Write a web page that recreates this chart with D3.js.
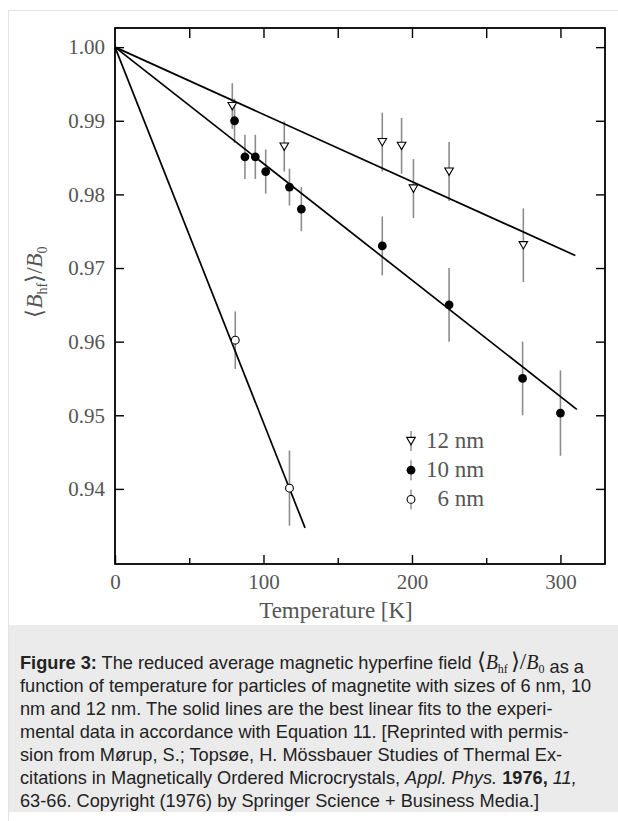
<!DOCTYPE html>
<html>
<head>
<meta charset="utf-8">
<script src="https://cdn.jsdelivr.net/npm/d3@7"></script>
<style>
  html, body { margin: 0; padding: 0; background: #fff; }
  svg { display: block; }
</style>
</head>
<body>
<svg id="chart" width="618" height="821"></svg>
<script>
// ---------- data ----------
// 12 nm particles (open down-triangles)
const T12 = [79, 114, 180, 193, 201, 225, 275];
const V12 = [0.9920, 0.9865, 0.9871, 0.9866, 0.9808, 0.9831, 0.9731];
const E12 = [0.0031, 0.0034, 0.0040, 0.0038, 0.0040, 0.0040, 0.0050];
// 10 nm particles (filled circles)
const T10 = [80.5, 87.5, 94.5, 101.5, 117.5, 125.5, 180, 225, 274.5, 300];
const V10 = [0.9900, 0.9851, 0.9851, 0.9831, 0.9810, 0.9780, 0.9730, 0.9650, 0.9550, 0.9503];
const E10 = [0.0030, 0.0030, 0.0030, 0.0030, 0.0025, 0.0030, 0.0040, 0.0050, 0.0050, 0.0058];
// 6 nm particles (open circles)
const T6 = [81, 117.5];
const V6 = [0.9602, 0.9401];
const E6 = [0.0039, 0.0051];
// best linear fits: all start at (0, 1.00) and end at these points
const fitStartT = [0, 0, 0];
const fitStartV = [1.0, 1.0, 1.0];
const fitEndT = [310, 311, 128];      // 12 nm, 10 nm, 6 nm
const fitEndV = [0.9717, 0.9508, 0.9347];
// axes
const xMajorTicks = [0, 100, 200, 300];
const xMinorTicks = [50, 150, 250];
const xTopTicks = [50, 100, 150, 200, 250, 300];
const yTicks = [0.94, 0.95, 0.96, 0.97, 0.98, 0.99, 1.00];
const xDomain = [0, 330];
const yDomain = [0.9298, 1.0026];
// legend
const legendLabels = ["12 nm", "10 nm", "6 nm"];
const legendMarkers = ["triangle", "filled", "open"];

// ---------- layout ----------
const svg = d3.select("#chart");
const pL = 115, pR = 605, pT = 28, pB = 564;
const x = d3.scaleLinear().domain(xDomain).range([pL, pR]);
const y = d3.scaleLinear().domain(yDomain).range([pB, pT]);
const serif = "'Liberation Serif', 'Times New Roman', serif";
const sans = "'Liberation Sans', Arial, Helvetica, sans-serif";

// outer figure border + caption box
svg.append("rect").attr("x", 8.5).attr("y", 10.5).attr("width", 640).attr("height", 840)
  .attr("fill", "#fff").attr("stroke", "#e3e3e3").attr("stroke-width", 1);
svg.append("rect").attr("x", 9).attr("y", 625).attr("width", 620).attr("height", 187)
  .attr("fill", "#ebebeb");

// ---------- axes ----------
function styleAxis(g) {
  g.select(".domain").remove();
  g.selectAll(".tick line").attr("stroke", "#000").attr("stroke-width", 1.4);
  g.selectAll(".tick text").attr("fill", "#555").attr("font-family", serif).attr("font-size", 21);
}
svg.append("g").attr("transform", `translate(0,${pB})`)
  .call(d3.axisBottom(x).tickValues(xMajorTicks).tickSize(-9).tickPadding(10).tickFormat(d3.format("d")))
  .call(styleAxis);
svg.append("g").attr("transform", `translate(0,${pB})`)
  .call(d3.axisBottom(x).tickValues(xMinorTicks).tickSize(-6).tickFormat(""))
  .call(styleAxis);
svg.append("g").attr("transform", `translate(0,${pT})`)
  .call(d3.axisTop(x).tickValues(xTopTicks).tickSize(-10).tickFormat(""))
  .call(styleAxis);
svg.append("g").attr("transform", `translate(${pL},0)`)
  .call(d3.axisLeft(y).tickValues(yTicks).tickSize(-9).tickPadding(10).tickFormat(d3.format(".2f")))
  .call(styleAxis);
svg.append("g").attr("transform", `translate(${pR},0)`)
  .call(d3.axisRight(y).tickValues(yTicks).tickSize(-9).tickFormat(""))
  .call(styleAxis);

// frame
svg.append("rect").attr("x", pL).attr("y", pT).attr("width", pR - pL).attr("height", pB - pT)
  .attr("fill", "none").attr("stroke", "#000").attr("stroke-width", 1.8);

// axis titles
svg.append("text").attr("x", 336).attr("y", 618).attr("text-anchor", "middle")
  .attr("font-family", serif).attr("font-size", 23).attr("fill", "#555").text("Temperature [K]");

const yl = svg.append("text").attr("transform", "translate(42,282) rotate(-90)")
  .attr("text-anchor", "middle").attr("font-family", serif).attr("font-size", 23).attr("fill", "#555");
yl.append("tspan").text("\u27E8");
yl.append("tspan").attr("font-style", "italic").text("B");
yl.append("tspan").attr("font-size", 14).attr("dy", 5).text("hf");
yl.append("tspan").attr("dy", -5).text("\u27E9/");
yl.append("tspan").attr("font-style", "italic").text("B");
yl.append("tspan").attr("font-size", 14).attr("dy", 5).text("0");

// ---------- series ----------
const series = [
  { T: T12, V: V12, E: E12, marker: "triangle" },
  { T: T10, V: V10, E: E10, marker: "filled" },
  { T: T6, V: V6, E: E6, marker: "open" }
];
const tri = "M-4.3,-3.6 L4.3,-3.6 L0,3.8 Z";

// error bars
series.forEach(s => {
  svg.append("g").selectAll("line").data(s.T.map((t, i) => ({ t, v: s.V[i], e: s.E[i] })))
    .join("line")
    .attr("x1", d => x(d.t)).attr("x2", d => x(d.t))
    .attr("y1", d => y(d.v + d.e)).attr("y2", d => y(d.v - d.e))
    .attr("stroke", "#8c8c8c").attr("stroke-width", 1.6);
});

// fit lines
svg.append("g").selectAll("line").data(fitEndT.map((t, i) => i))
  .join("line")
  .attr("x1", i => x(fitStartT[i])).attr("y1", i => y(fitStartV[i]))
  .attr("x2", i => x(fitEndT[i])).attr("y2", i => y(fitEndV[i]))
  .attr("stroke", "#000").attr("stroke-width", 1.7);

function drawMarker(g, type, cx, cy) {
  if (type === "triangle") {
    g.append("path").attr("d", tri).attr("transform", `translate(${cx},${cy})`)
      .attr("fill", "#fff").attr("stroke", "#000").attr("stroke-width", 1.1);
  } else if (type === "filled") {
    g.append("circle").attr("cx", cx).attr("cy", cy).attr("r", 4.4).attr("fill", "#000");
  } else {
    g.append("circle").attr("cx", cx).attr("cy", cy).attr("r", 3.9)
      .attr("fill", "#fff").attr("stroke", "#000").attr("stroke-width", 1.1);
  }
}
series.forEach(s => {
  const g = svg.append("g");
  s.T.forEach((t, i) => drawMarker(g, s.marker, x(t), y(s.V[i])));
});

// ---------- legend ----------
const lg = svg.append("g");
legendLabels.forEach((lab, i) => {
  const cy = 441 + i * 29.2;
  lg.append("line").attr("x1", 411).attr("x2", 411).attr("y1", cy - 10).attr("y2", cy + 10)
    .attr("stroke", "#8c8c8c").attr("stroke-width", 1.4);
  drawMarker(lg, legendMarkers[i], 411, cy);
  lg.append("text").attr("x", 426 + (lab.length < 5 ? 11.5 : 0)).attr("y", cy + 7)
    .attr("font-family", serif).attr("font-size", 23).attr("fill", "#555").text(lab);
});

// ---------- caption ----------
const cap = svg.append("g").attr("font-family", sans).attr("font-size", 18.2).attr("fill", "#222");
const lineY0 = 669, lineH = 23;
const captionLines = [
  [["b", "Figure 3:"], ["n", " The reduced average magnetic hyperfine field "], ["math", ""], ["n", " as a"]],
  [["n", "function of temperature for particles of magnetite with sizes of 6 nm, 10"]],
  [["n", "nm and 12 nm. The solid lines are the best linear fits to the experi-"]],
  [["n", "mental data in accordance with Equation 11. [Reprinted with permis-"]],
  [["n", "sion from Mørup, S.; Topsøe, H. Mössbauer Studies of Thermal Ex-"]],
  [["n", "citations in Magnetically Ordered Microcrystals, "], ["i", "Appl. Phys."], ["n", " "], ["b", "1976,"], ["n", " "], ["i", "11,"]],
  [["n", "63-66. Copyright (1976) by Springer Science + Business Media.]"]]
];
captionLines.forEach((segs, li) => {
  const t = cap.append("text").attr("x", 20).attr("y", lineY0 + li * lineH).attr("xml:space", "preserve");
  segs.forEach(([kind, str]) => {
    if (kind === "math") {
      t.append("tspan").attr("font-family", serif).attr("font-size", 23).text("\u27E8");
      t.append("tspan").attr("font-family", serif).attr("font-style", "italic").attr("font-size", 20).text("B");
      t.append("tspan").attr("font-family", serif).attr("font-size", 12).attr("dy", 4).text("hf");
      t.append("tspan").attr("font-family", serif).attr("font-size", 23).attr("dy", -4).attr("dx", 3).text("\u27E9/");
      t.append("tspan").attr("font-family", serif).attr("font-style", "italic").attr("font-size", 20).text("B");
      t.append("tspan").attr("font-family", serif).attr("font-size", 12).attr("dy", 4).text("0");
      t.append("tspan").attr("dy", -4).text("");
    } else {
      const sp = t.append("tspan").text(str);
      if (kind === "b") sp.attr("font-weight", "bold");
      if (kind === "i") sp.attr("font-style", "italic");
    }
  });
});
</script>
</body>
</html>
